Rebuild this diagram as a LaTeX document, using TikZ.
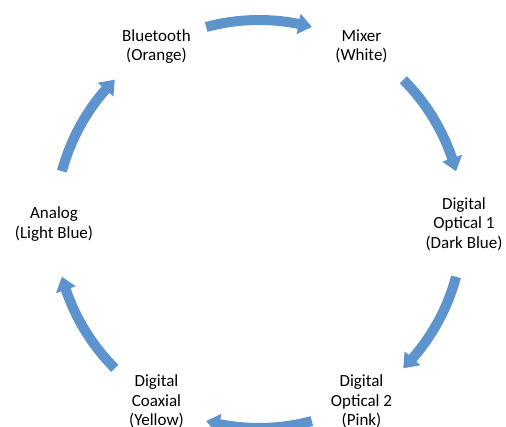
\documentclass[tikz,border=0pt]{standalone}
\usepackage{fontspec}
\setmainfont{Carlito}
\definecolor{cycleblue}{RGB}{94,148,205}
\begin{document}
\begin{tikzpicture}[x=1pt,y=1pt,
  lbl/.style={align=center,font=\fontsize{17}{19.5}\selectfont,inner sep=0pt},
  cyclearrow/.style={fill=cycleblue,draw=none}]
\useasboundingbox (0,0) rectangle (506,426);
\clip (0,0) rectangle (506,426);
\begin{scope}[shift={(259,202)}]
  % source labels placed on a circle
  \node[lbl] (bt)  at (120:205) {Bluetooth\\(Orange)};
  \node[lbl] (mix) at (60:205)  {Mixer\\(White)};
  \node[lbl] (do1) at (0:205)   {Digital\\Optical 1\\(Dark Blue)};
  \node[lbl] (do2) at (-60:205) {Digital\\Optical 2\\(Pink)};
  \node[lbl] (dc)  at (-120:205){Digital\\Coaxial\\(Yellow)};
  \node[lbl] (an)  at (180:205) {Analog\\(Light Blue)};
  % curved block arrows running clockwise between neighbours
  \foreach \a in {105,45,-15,-75,-135,165} {
    \pgfmathsetmacro\b{\a-30}
    \pgfmathsetmacro\h{\b+3.8}
    \fill[cyclearrow] (\a:209) arc[start angle=\a, end angle=\h, radius=209]
      -- (\h:214.5) -- (\b:204) -- (\h:193.5) -- (\h:199)
      arc[start angle=\h, end angle=\a, radius=199] -- cycle;
  }
\end{scope}
\end{tikzpicture}
\end{document}
